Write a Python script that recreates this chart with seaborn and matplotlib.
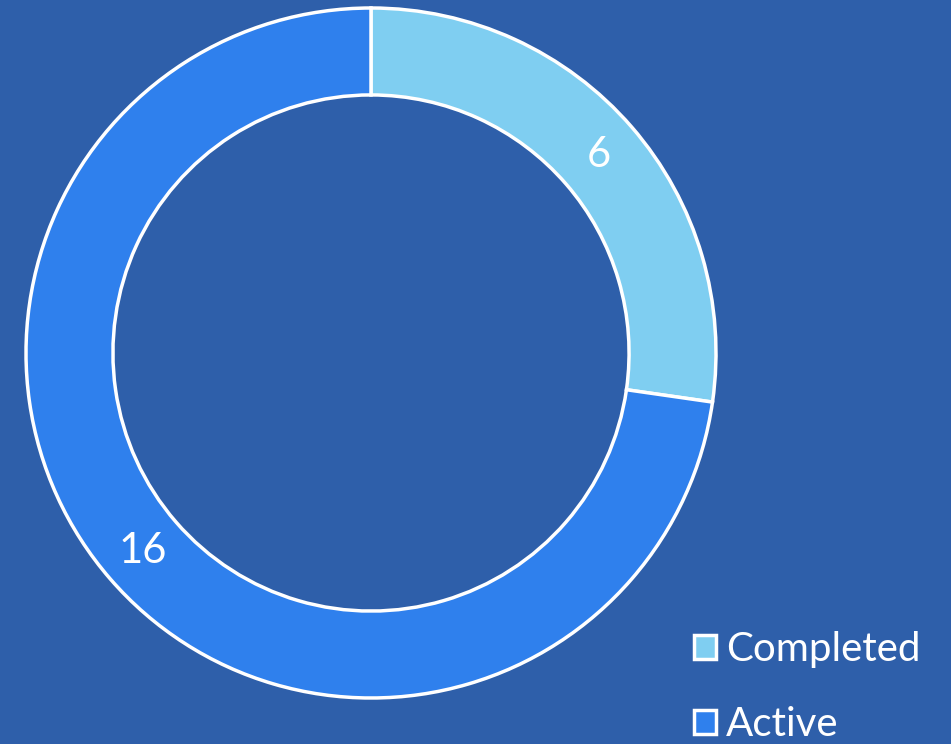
import seaborn as sns
import matplotlib.pyplot as plt
from matplotlib.patches import Patch

# Dados
labels = ['Completed', 'Active']
values = [6, 16]
colors = ['#7FCEF1', '#2F80ED']
bg = '#2E5FAA'

sns.set_style('white')
plt.rcParams['font.family'] = ['Lato', 'DejaVu Sans']

fig = plt.figure(figsize=(9.51, 7.44), dpi=100, facecolor=bg)
ax = fig.add_axes([26 / 951, 46 / 744, 690 / 951, 690 / 744])
ax.set_facecolor(bg)

# Gráfico de rosca
wedges, texts = ax.pie(values, colors=colors, startangle=90, counterclock=False,
                       radius=1, labels=[str(v) for v in values], labeldistance=0.875,
                       wedgeprops=dict(width=0.252, edgecolor='white', linewidth=2.5),
                       textprops=dict(color='white', fontsize=30, ha='center', va='center'))
ax.set_xlim(-1, 1)
ax.set_ylim(-1, 1)
ax.set_aspect('equal')
ax.axis('off')

# Legenda
handles = [Patch(facecolor=c, edgecolor='white', linewidth=2.5) for c in colors]
leg = fig.legend(handles, labels, loc='upper left', bbox_to_anchor=(674 / 951, 1 - 611 / 744),
                 frameon=False, fontsize=29, labelcolor='white', handlelength=0.55,
                 handleheight=0.55, handletextpad=0.25, labelspacing=0.95, borderpad=0)

fig.savefig('out.png', dpi=100, facecolor=bg)
